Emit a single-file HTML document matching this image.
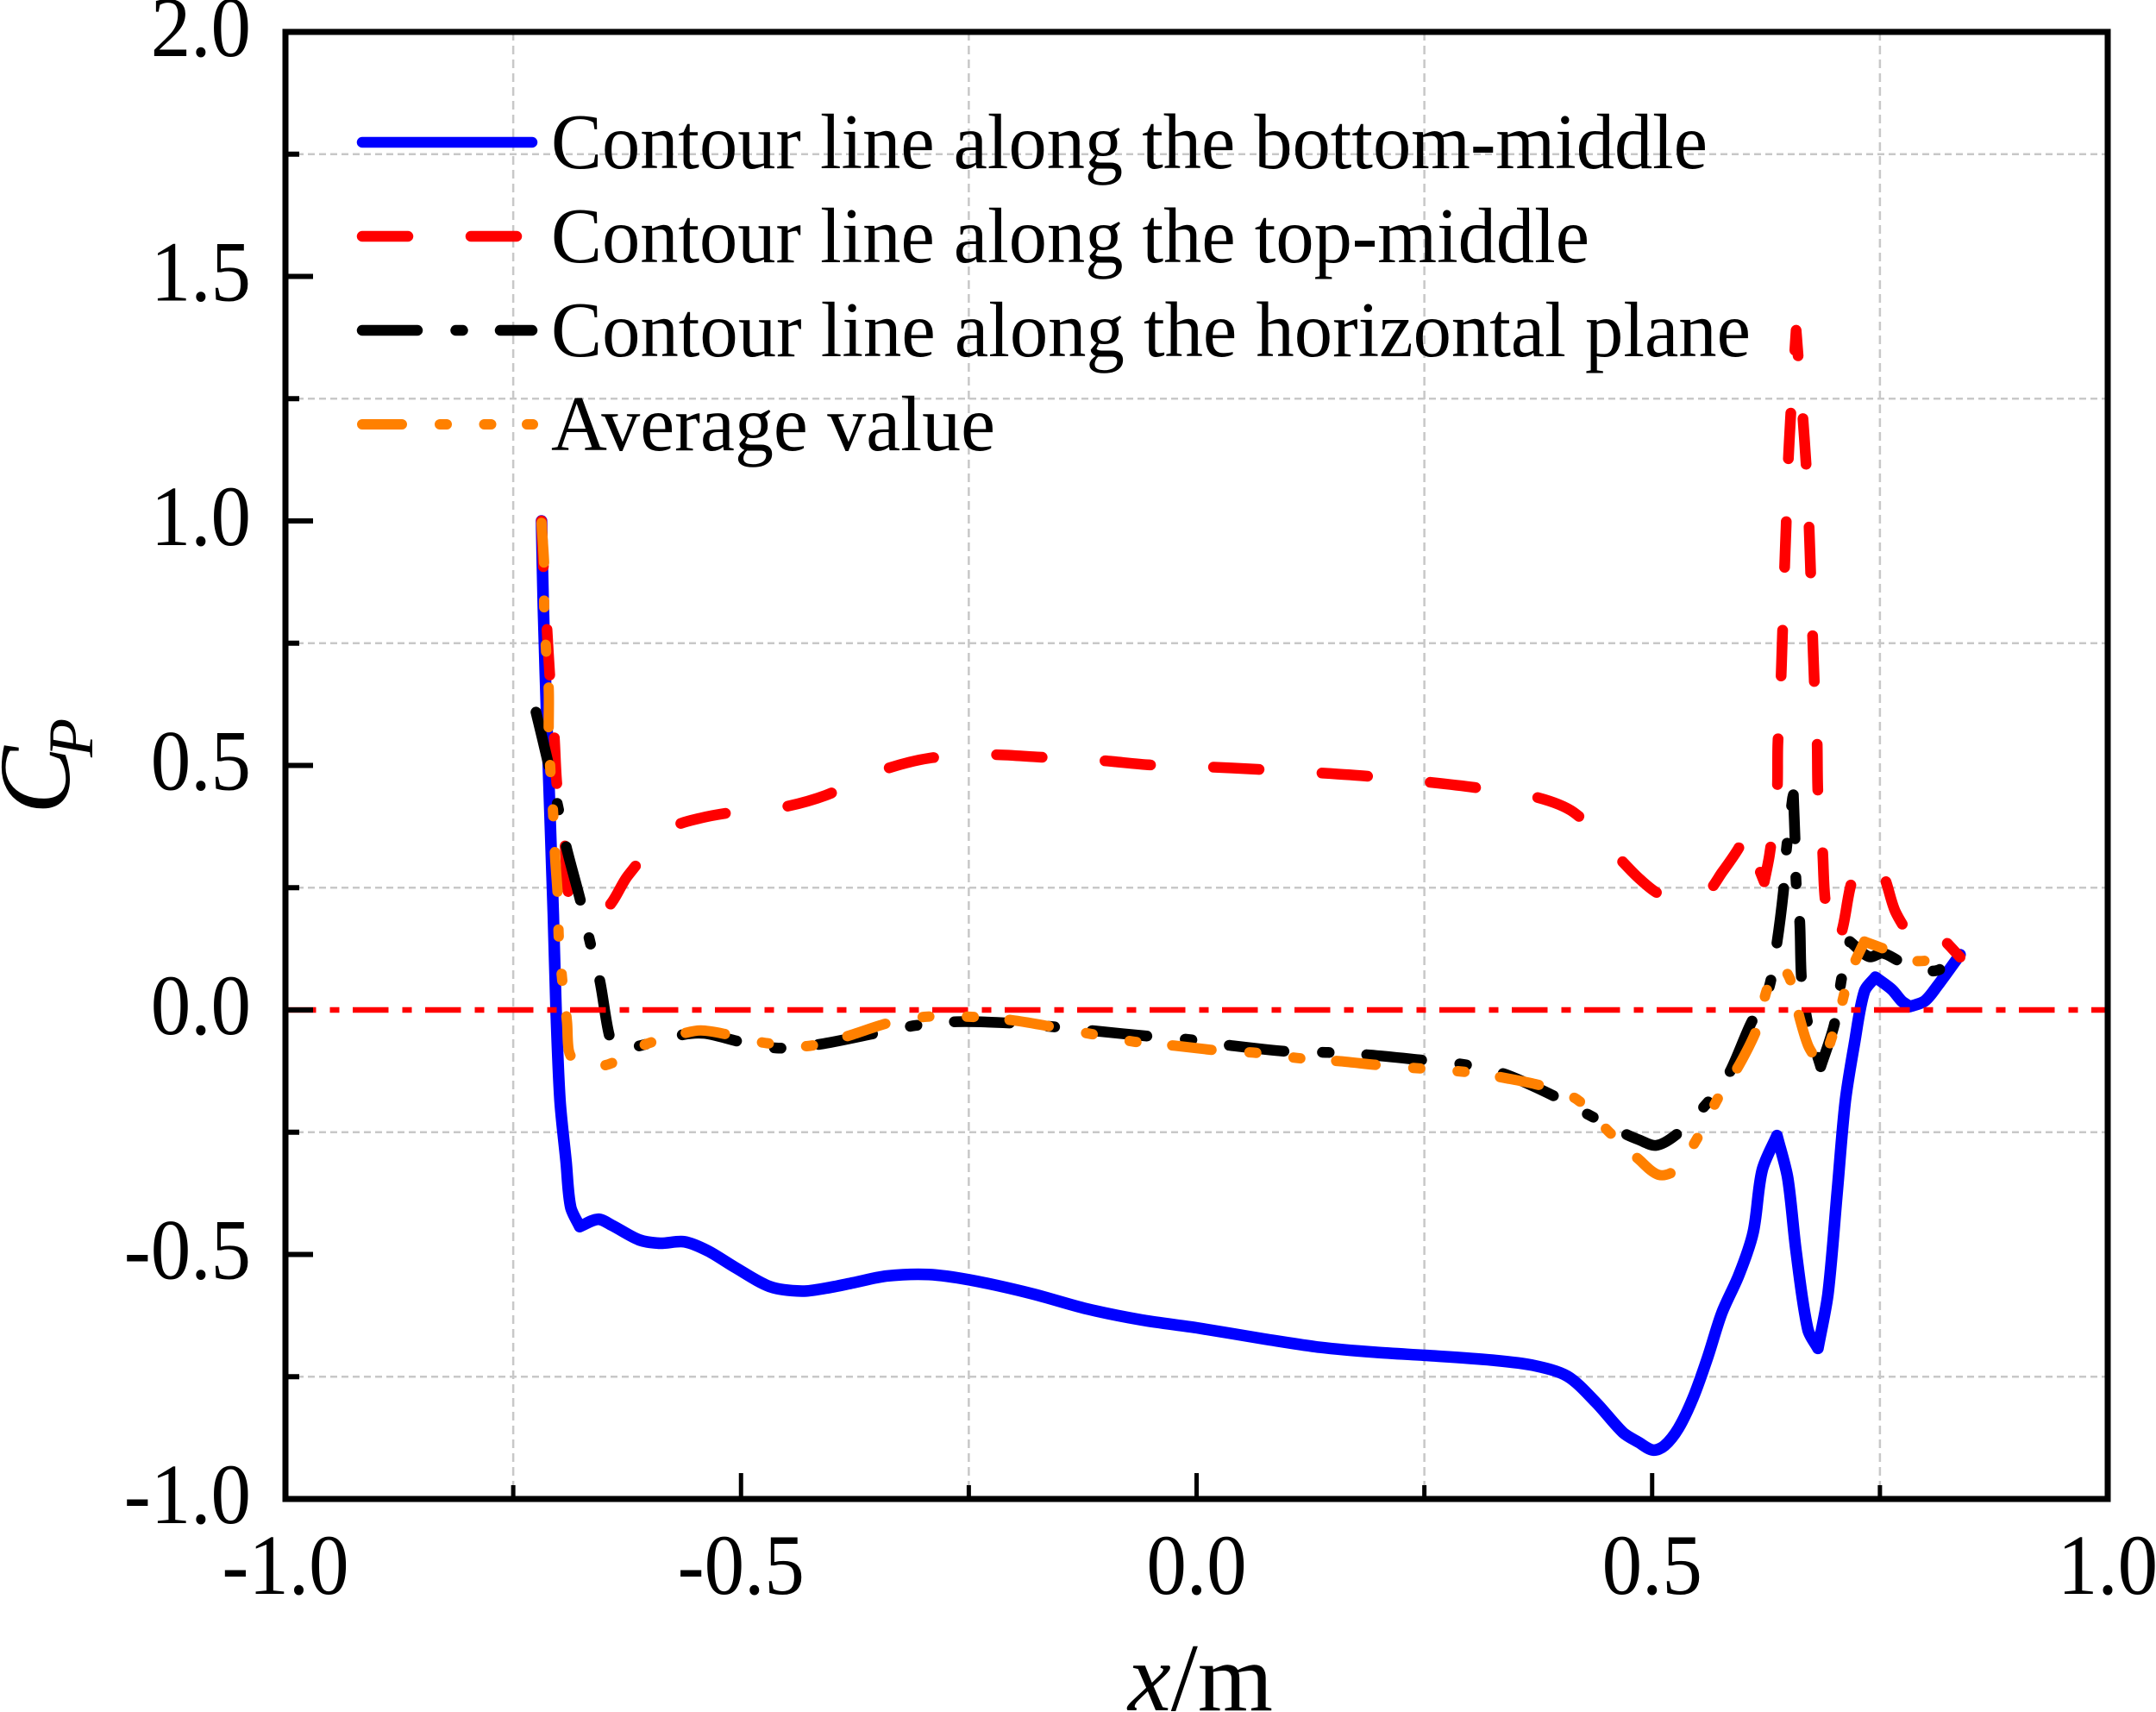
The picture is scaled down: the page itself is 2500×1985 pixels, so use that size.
<!DOCTYPE html>
<html>
<head>
<meta charset="utf-8">
<title>Pressure coefficient chart</title>
<style>
html,body{margin:0;padding:0;background:#fff;}
svg{display:block;}
text{font-family:"Liberation Serif","Times New Roman",serif;fill:#000;}
</style>
</head>
<body>
<svg id="chart" xmlns="http://www.w3.org/2000/svg" width="2500" height="1985" viewBox="0 0 2500 1985">
<rect x="0" y="0" width="2500" height="1985" fill="#fff"/>
<g id="grid"></g>
<g id="series"></g>
<g id="axes"></g>
<text x="1308" y="1983" font-size="112"><tspan font-style="italic">x</tspan>/m</text>
<g>
<text transform="translate(80,944) rotate(-90)" font-size="118" font-style="italic">C</text>
<text transform="translate(107,878) rotate(-90)" font-size="74" font-style="italic">P</text>
</g>
<g>
<g>
<line x1="420" x2="617" y1="165" y2="165" stroke="#0000ff" stroke-width="12.5" stroke-linecap="round"/>
<text x="639" y="195" font-size="91" textLength="1341" lengthAdjust="spacingAndGlyphs">Contour line along the bottom-middle</text>
</g>
<g>
<path d="M420 274H617" fill="none" stroke="#ff0000" stroke-width="12.5" stroke-linecap="round" stroke-dasharray="53 73"/>
<text x="639" y="304" font-size="91" textLength="1204" lengthAdjust="spacingAndGlyphs">Contour line along the top-middle</text>
</g>
<g>
<path d="M420 383H617" fill="none" stroke="#000000" stroke-width="12.5" stroke-linecap="round" stroke-dasharray="64 44.5 8 43.5"/>
<text x="639" y="413" font-size="91" textLength="1391" lengthAdjust="spacingAndGlyphs">Contour line along the horizontal plane</text>
</g>
<g>
<path d="M420 492H618" fill="none" stroke="#ff8000" stroke-width="12" stroke-linecap="round" stroke-dasharray="46 44 8 43.5 8 41.5"/>
<text x="639" y="522" font-size="91" textLength="515" lengthAdjust="spacingAndGlyphs">Average value</text>
</g>
</g>
</svg>
<script>
var xMajorTicks = [-1.0, -0.5, 0.0, 0.5, 1.0];
var xMajorLabels = ["-1.0", "-0.5", "0.0", "0.5", "1.0"];
var xMinorTicks = [-0.75, -0.25, 0.25, 0.75];
var yMajorTicks = [2.0, 1.5, 1.0, 0.5, 0.0, -0.5, -1.0];
var yMajorLabels = ["2.0", "1.5", "1.0", "0.5", "0.0", "-0.5", "-1.0"];
var yMinorTicks = [1.75, 1.25, 0.75, 0.25, -0.25, -0.75];
var referenceValue = 0;

var bottomX = [-0.719,-0.717,-0.7125,-0.706,-0.703,-0.6987,-0.692,-0.687,-0.677,-0.657,-0.642,-0.612,-0.589,-0.562,-0.536,-0.506,-0.468,-0.433,-0.407,-0.377,-0.34,-0.294,-0.249,-0.181,-0.121,-0.06,0,0.075,0.136,0.196,0.257,0.324,0.37,0.407,0.438,0.468,0.485,0.501,0.5136,0.529,0.545,0.561,0.5766,0.5955,0.611,0.6207,0.637,0.6488,0.658,0.671,0.682,0.693,0.703,0.712,0.722,0.733,0.745,0.763,0.774,0.783,0.799,0.813,0.838];
var bottomY = [1.0,0.825,0.555,0.196,0.0,-0.184,-0.31,-0.403,-0.443,-0.428,-0.44,-0.47,-0.477,-0.474,-0.493,-0.527,-0.566,-0.575,-0.569,-0.558,-0.544,-0.541,-0.552,-0.58,-0.611,-0.634,-0.65,-0.673,-0.69,-0.70,-0.707,-0.716,-0.727,-0.749,-0.802,-0.864,-0.884,-0.90,-0.891,-0.855,-0.793,-0.71,-0.619,-0.541,-0.454,-0.328,-0.257,-0.344,-0.494,-0.654,-0.692,-0.58,-0.375,-0.187,-0.069,0.038,0.067,0.042,0.018,0.007,0.018,0.049,0.113];

var topX = [-0.719,-0.715,-0.713,-0.71,-0.705,-0.702,-0.693,-0.689,-0.673,-0.657,-0.641,-0.624,-0.578,-0.543,-0.498,-0.456,-0.407,-0.347,-0.293,-0.226,-0.172,-0.105,-0.051,0.012,0.067,0.133,0.188,0.254,0.305,0.371,0.414,0.462,0.485,0.507,0.533,0.559,0.577,0.594,0.605,0.616,0.623,0.629,0.637,0.638,0.641,0.643,0.645,0.647,0.649,0.652,0.656,0.658,0.665,0.669,0.672,0.674,0.676,0.678,0.681,0.682,0.687,0.69,0.699,0.708,0.719,0.733,0.752,0.767,0.79,0.816,0.838];
var topY = [1.0,0.83,0.78,0.686,0.559,0.46,0.335,0.236,0.19,0.19,0.222,0.275,0.37,0.393,0.407,0.414,0.439,0.489,0.515,0.522,0.517,0.51,0.501,0.497,0.492,0.485,0.478,0.466,0.455,0.436,0.404,0.314,0.27,0.238,0.225,0.238,0.282,0.328,0.367,0.296,0.262,0.319,0.441,0.543,0.656,0.764,0.882,0.989,1.106,1.213,1.331,1.39,1.222,1.115,0.998,0.891,0.772,0.67,0.552,0.444,0.328,0.224,0.135,0.16,0.261,0.31,0.282,0.201,0.13,0.152,0.108];

var planeX = [-0.725,-0.711,-0.701,-0.692,-0.676,-0.666,-0.655,-0.644,-0.635,-0.613,-0.565,-0.54,-0.501,-0.459,-0.413,-0.353,-0.309,-0.263,-0.202,-0.154,-0.111,-0.051,-0.006,0.039,0.1,0.145,0.19,0.25,0.295,0.338,0.389,0.429,0.471,0.485,0.504,0.525,0.553,0.582,0.608,0.627,0.636,0.644,0.647,0.654,0.655,0.657,0.658,0.662,0.664,0.671,0.685,0.70,0.708,0.717,0.738,0.753,0.771,0.79,0.813,0.838];
var planeY = [0.609,0.50,0.416,0.335,0.222,0.141,0.06,-0.056,-0.08,-0.074,-0.051,-0.048,-0.065,-0.078,-0.07,-0.048,-0.032,-0.024,-0.027,-0.035,-0.043,-0.054,-0.061,-0.073,-0.085,-0.087,-0.092,-0.103,-0.112,-0.131,-0.173,-0.213,-0.254,-0.265,-0.277,-0.257,-0.206,-0.138,-0.029,0.038,0.125,0.241,0.322,0.432,0.44,0.34,0.261,0.18,0.062,-0.029,-0.116,-0.029,0.065,0.14,0.109,0.116,0.10,0.085,0.081,0.113];

var averageX = [-0.719,-0.716,-0.716,-0.714,-0.711,-0.711,-0.709,-0.706,-0.704,-0.701,-0.70,-0.696,-0.691,-0.689,-0.683,-0.649,-0.607,-0.563,-0.544,-0.518,-0.475,-0.428,-0.386,-0.337,-0.297,-0.249,-0.202,-0.16,-0.116,-0.068,-0.024,0.024,0.067,0.114,0.158,0.206,0.248,0.296,0.338,0.387,0.419,0.453,0.485,0.507,0.525,0.55,0.573,0.596,0.616,0.627,0.644,0.652,0.658,0.671,0.684,0.69,0.705,0.717,0.733,0.761,0.771,0.79,0.813,0.838];
var averageY = [0.996,0.907,0.825,0.735,0.654,0.564,0.483,0.395,0.312,0.228,0.146,0.056,-0.025,-0.083,-0.102,-0.113,-0.072,-0.048,-0.042,-0.049,-0.067,-0.074,-0.055,-0.026,-0.014,-0.014,-0.021,-0.034,-0.049,-0.065,-0.073,-0.083,-0.088,-0.099,-0.105,-0.114,-0.12,-0.127,-0.139,-0.159,-0.185,-0.25,-0.305,-0.337,-0.328,-0.261,-0.178,-0.111,-0.034,0.046,0.089,0.06,0.011,-0.072,-0.111,-0.095,-0.009,0.074,0.14,0.12,0.109,0.10,0.104,0.113];

var plotLeft = 331, plotRight = 2444, plotTop = 37, plotBottom = 1738;
var NS = "http://www.w3.org/2000/svg";
function xScale(v){ return plotLeft + (v + 1) / 2 * (plotRight - plotLeft); }
function yScale(v){ return plotTop + (2 - v) / 3 * (plotBottom - plotTop); }
var gridG = document.getElementById('grid');
var seriesG = document.getElementById('series');
var axesG = document.getElementById('axes');

xMinorTicks.forEach(function(v){
  var el = document.createElementNS(NS, 'line');
  
  
  el.setAttribute('x1', xScale(v)); el.setAttribute('x2', xScale(v));
  el.setAttribute('y1', plotTop); el.setAttribute('y2', plotBottom);
  el.setAttribute('stroke', '#c8c8c8'); el.setAttribute('stroke-width', '2.5');
  el.setAttribute('stroke-dasharray', '10 6');
  gridG.appendChild(el);
});
yMinorTicks.forEach(function(v){
  var el = document.createElementNS(NS, 'line');
  
  
  el.setAttribute('x1', plotLeft); el.setAttribute('x2', plotRight);
  el.setAttribute('y1', yScale(v)); el.setAttribute('y2', yScale(v));
  el.setAttribute('stroke', '#c8c8c8'); el.setAttribute('stroke-width', '2.5');
  el.setAttribute('stroke-dasharray', '8 5');
  gridG.appendChild(el);
});

function seriesPath(xs, ys){
  var px = xs.map(xScale), py = ys.map(yScale), n = xs.length;
  function unit(a, b){
    var dx = px[b] - px[a], dy = py[b] - py[a], len = Math.hypot(dx, dy) || 1;
    return [dx / len, dy / len];
  }
  function tangents(i){
    if (i === 0 || i === n - 1) { var e = i === 0 ? unit(0, 1) : unit(n - 2, n - 1); return {inn: e, out: e}; }
    var u = unit(i - 1, i), v = unit(i, i + 1);
    if (u[0] * v[0] + u[1] * v[1] < 0.6) return {inn: u, out: v};
    var c = unit(i - 1, i + 1);
    return {inn: c, out: c};
  }
  var d = 'M' + px[0].toFixed(1) + ' ' + py[0].toFixed(1);
  for (var i = 0; i < n - 1; i++) {
    var seg = Math.hypot(px[i + 1] - px[i], py[i + 1] - py[i]) * 0.3;
    var t0 = tangents(i).out, t1 = tangents(i + 1).inn;
    d += 'C' + (px[i] + t0[0] * seg).toFixed(1) + ' ' + (py[i] + t0[1] * seg).toFixed(1) +
         ' ' + (px[i + 1] - t1[0] * seg).toFixed(1) + ' ' + (py[i + 1] - t1[1] * seg).toFixed(1) +
         ' ' + px[i + 1].toFixed(1) + ' ' + py[i + 1].toFixed(1);
  }
  return d;
}
function drawSeries(name, xs, ys, color, width, dash){
  var el = document.createElementNS(NS, 'path');
  
  
  el.setAttribute('d', seriesPath(xs, ys));
  el.setAttribute('fill', 'none');
  el.setAttribute('stroke', color);
  el.setAttribute('stroke-width', width);
  el.setAttribute('stroke-linecap', 'round');
  el.setAttribute('stroke-linejoin', 'round');
  if (dash) el.setAttribute('stroke-dasharray', dash);
  seriesG.appendChild(el);
}
drawSeries('series-bottom-middle', bottomX, bottomY, '#0000ff', 13.5, '');
drawSeries('series-top-middle', topX, topY, '#ff0000', 12.5, '53 73');
drawSeries('series-horizontal-plane', planeX, planeY, '#000000', 12.5, '64 44.5 8 43.5');

var refLine = document.createElementNS(NS, 'line');


refLine.setAttribute('x1', plotLeft); refLine.setAttribute('x2', plotRight);
refLine.setAttribute('y1', yScale(referenceValue)); refLine.setAttribute('y2', yScale(referenceValue));
refLine.setAttribute('stroke', '#ff0000'); refLine.setAttribute('stroke-width', '6.5');
refLine.setAttribute('stroke-dasharray', '41.5 16 11 15.5');
refLine.setAttribute('stroke-dashoffset', '6');
seriesG.appendChild(refLine);

drawSeries('series-average', averageX, averageY, '#ff8000', 12, '46 44 8 43.5 8 41.5');

var frame = document.createElementNS(NS, 'rect');


frame.setAttribute('x', plotLeft); frame.setAttribute('y', plotTop);
frame.setAttribute('width', plotRight - plotLeft); frame.setAttribute('height', plotBottom - plotTop);
frame.setAttribute('fill', 'none'); frame.setAttribute('stroke', '#000'); frame.setAttribute('stroke-width', '7');
axesG.appendChild(frame);

function drawXTick(v, len){
  var el = document.createElementNS(NS, 'line');
  
  
  el.setAttribute('x1', xScale(v)); el.setAttribute('x2', xScale(v));
  el.setAttribute('y1', plotBottom); el.setAttribute('y2', plotBottom - len);
  el.setAttribute('stroke', '#000'); el.setAttribute('stroke-width', '5');
  axesG.appendChild(el);
}
function drawYTick(v, len){
  var el = document.createElementNS(NS, 'line');
  
  
  el.setAttribute('y1', yScale(v)); el.setAttribute('y2', yScale(v));
  el.setAttribute('x1', plotLeft); el.setAttribute('x2', plotLeft + len);
  el.setAttribute('stroke', '#000'); el.setAttribute('stroke-width', '6');
  axesG.appendChild(el);
}
xMajorTicks.forEach(function(v){ drawXTick(v, 30); });
xMinorTicks.forEach(function(v){ drawXTick(v, 16); });
yMajorTicks.forEach(function(v){ drawYTick(v, 32); });
yMinorTicks.forEach(function(v){ drawYTick(v, 16); });

xMajorTicks.forEach(function(v, i){
  var el = document.createElementNS(NS, 'text');
  
  
  el.setAttribute('transform', 'translate(' + xScale(v) + ',1848) scale(0.93,1)');
  el.setAttribute('text-anchor', 'middle');
  el.setAttribute('font-size', '100');
  el.textContent = xMajorLabels[i];
  axesG.appendChild(el);
});
yMajorTicks.forEach(function(v, i){
  var el = document.createElementNS(NS, 'text');
  
  
  el.setAttribute('transform', 'translate(291,' + (yScale(v) + 28) + ') scale(0.93,1)');
  el.setAttribute('text-anchor', 'end');
  el.setAttribute('font-size', '100');
  el.textContent = yMajorLabels[i];
  axesG.appendChild(el);
});
</script>
</body>
</html>
